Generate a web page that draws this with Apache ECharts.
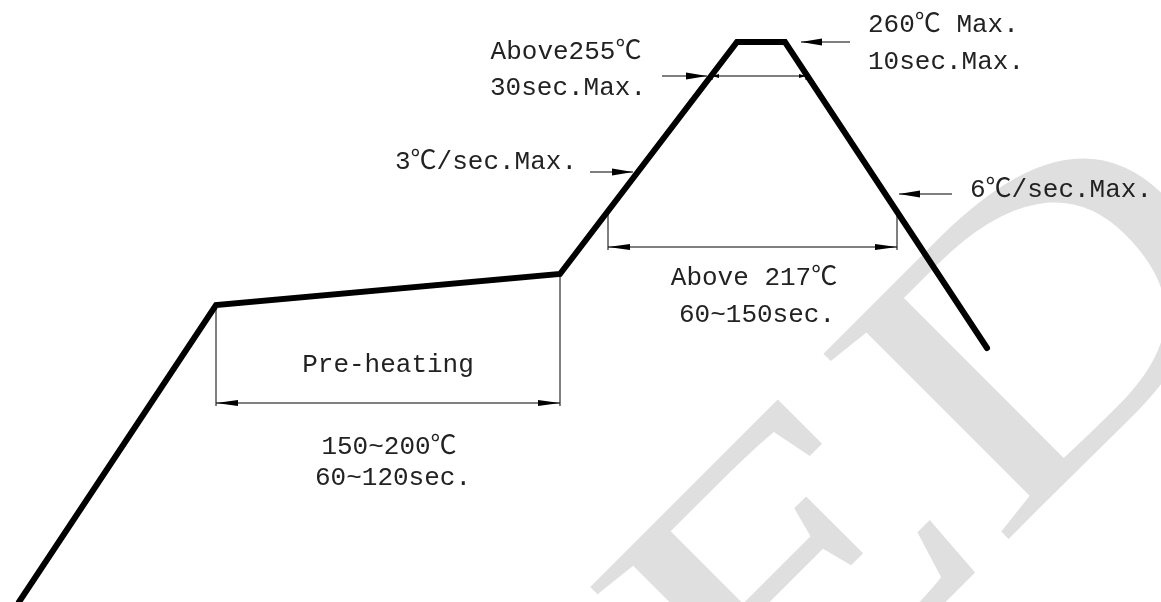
<!DOCTYPE html>
<html>
<head>
<meta charset="utf-8">
<script src="https://cdn.jsdelivr.net/npm/echarts@6/dist/echarts.min.js"></script>
<style>
  html, body { margin: 0; padding: 0; background: #fff; }
  #chart { width: 1161px; height: 602px; }
</style>
</head>
<body>
<div id="chart"></div>
<script>
// profile corners (x = time units, y = temperature units)
const profileX = [19, 216, 560, 737, 785, 987];
const profileY = [0, 297, 328, 560, 560, 254];

// double headed dimension arrows [x1, y1, x2, y2]
const spanArrows = [
    [216, 199, 560, 199],
    [608, 355, 897, 355]
];
const peakSpan = [[712, 526, 806, 526]];

// single pointer arrows, head at the second point
const pointerArrows = [
    [662, 526, 707, 526],
    [850, 560, 801, 560],
    [590, 430, 633, 430],
    [952, 408, 899, 408]
];

// extension lines
const extLines = [
    [216, 297, 216, 196],
    [560, 328, 560, 196],
    [608, 389, 608, 352],
    [897, 390, 897, 352],
    [712, 530, 712, 522],
    [806, 530, 806, 522]
];

const labelText = [
    'Above255℃', '30sec.Max.',
    '260℃ Max.', '10sec.Max.',
    '3℃/sec.Max.', '6℃/sec.Max.',
    'Above 217℃', '60~150sec.',
    'Pre-heating', '150~200℃', '60~120sec.'
];
const labelPos = [
    [566, 550, 'center'], [568, 514, 'center'],
    [868, 577, 'left'], [868, 540, 'left'],
    [395, 440, 'left'], [970, 412, 'left'],
    [754, 324, 'center'], [757, 287, 'center'],
    [388, 237, 'center'], [389, 155, 'center'], [393, 124, 'center']
];

const chart = echarts.init(document.getElementById('chart'));

function head(p, q, len, half) {
    const dx = q[0] - p[0], dy = q[1] - p[1];
    const d = Math.hypot(dx, dy);
    const ux = dx / d, uy = dy / d;
    const bx = q[0] - ux * len, by = q[1] - uy * len;
    return {
        type: 'polygon',
        shape: { points: [[q[0], q[1]], [bx - uy * half, by + ux * half], [bx + uy * half, by - ux * half]] },
        style: { fill: '#000' }
    };
}

function segRender(double, len, half, withHead) {
    return function (params, api) {
        const p = api.coord([api.value(0), api.value(1)]);
        const q = api.coord([api.value(2), api.value(3)]);
        const children = [{
            type: 'line',
            shape: { x1: p[0], y1: p[1], x2: q[0], y2: q[1] },
            style: { stroke: '#000', lineWidth: 1 }
        }];
        if (withHead) children.push(head(p, q, len, half));
        if (double) children.push(head(q, p, len, half));
        return { type: 'group', children: children };
    };
}

const segDims = ['x1', 'y1', 'x2', 'y2'];
const segEncode = { x: [0, 2], y: [1, 3] };

const option = {
    backgroundColor: '#fff',
    animation: false,
    grid: { left: 0, right: 0, top: 0, bottom: 0 },
    xAxis: { type: 'value', min: 0, max: 1161, show: false },
    yAxis: { type: 'value', min: 0, max: 602, show: false },
    graphic: [{
        type: 'text',
        x: 828,
        y: 571,
        rotation: Math.PI / 4,
        scaleX: 1.35,
        silent: true,
        z: -10,
        style: {
            text: 'LED',
            font: '400px "Liberation Serif"',
            fill: '#dfdfdf',
            align: 'center',
            verticalAlign: 'middle'
        }
    }],
    series: [
        {
            type: 'line',
            data: profileX.map((x, i) => [x, profileY[i]]),
            symbol: 'none',
            lineStyle: { color: '#000', width: 6, cap: 'round', join: 'miter' },
            z: 5
        },
        {
            type: 'custom',
            dimensions: segDims,
            encode: segEncode,
            renderItem: segRender(true, 22, 3, true),
            data: spanArrows
        },
        {
            type: 'custom',
            dimensions: segDims,
            encode: segEncode,
            renderItem: segRender(true, 7, 2, true),
            data: peakSpan
        },
        {
            type: 'custom',
            dimensions: segDims,
            encode: segEncode,
            renderItem: segRender(false, 21, 3.5, true),
            data: pointerArrows
        },
        {
            type: 'custom',
            dimensions: segDims,
            encode: segEncode,
            renderItem: segRender(false, 0, 0, false),
            data: extLines
        },
        {
            type: 'custom',
            renderItem: function (params, api) {
                const i = params.dataIndex;
                const c = api.coord([labelPos[i][0], labelPos[i][1]]);
                return {
                    type: 'text',
                    x: c[0],
                    y: c[1],
                    style: {
                        text: labelText[i],
                        font: '26px "Liberation Mono", "Noto Sans CJK SC", monospace',
                        fill: '#222',
                        align: labelPos[i][2],
                        verticalAlign: 'middle'
                    }
                };
            },
            data: labelPos.map(p => [p[0], p[1]])
        }
    ]
};

chart.setOption(option);
</script>
</body>
</html>
